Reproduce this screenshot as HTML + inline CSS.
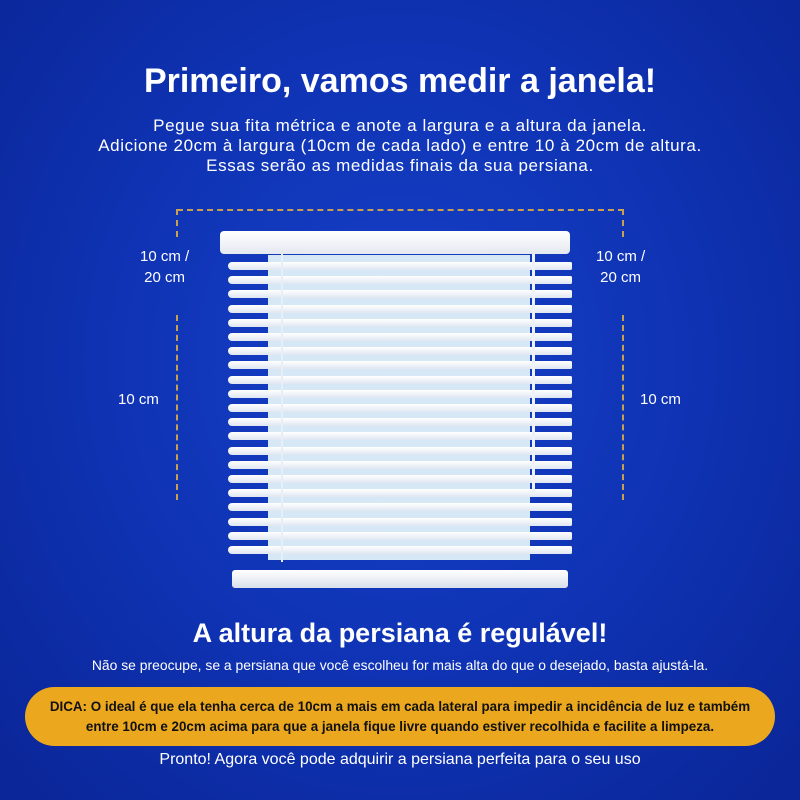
<!DOCTYPE html>
<html><head><meta charset="utf-8"><style>
*{margin:0;padding:0;box-sizing:border-box}
body{width:800px;height:800px;overflow:hidden;font-family:"Liberation Sans",sans-serif}
#root{position:relative;width:800px;height:800px;background:radial-gradient(ellipse at 50% 45%,#1640c8 0%,#0f33b4 50%,#0a2596 100%);color:#fff}
.t{position:absolute;left:0;width:800px;text-align:center;white-space:nowrap}
.lbl{position:absolute;font-size:15px;text-align:center;white-space:nowrap}
.dh{position:absolute;border-top:2px dashed #c9a050}
.dv{position:absolute;border-left:2px dashed #c9a050}
.slat{position:absolute;left:228px;width:344px;height:8px;background:linear-gradient(#fff,#dfe6f2);border-radius:5px 2px 2px 5px}
</style></head><body>
<div id="root">
<div class="t" style="top:62px;font-size:34px;font-weight:bold">Primeiro, vamos medir a janela!</div>
<div class="t" style="top:116px;font-size:17px;line-height:20px;letter-spacing:0.6px">Pegue sua fita métrica e anote a largura e a altura da janela.<br>Adicione 20cm à largura (10cm de cada lado) e entre 10 à 20cm de altura.<br>Essas serão as medidas finais da sua persiana.</div>

<div class="dh" style="left:177px;top:209px;width:447px"></div>
<div class="dv" style="left:176px;top:209px;height:28px"></div>
<div class="dv" style="left:176px;top:315px;height:185px"></div>
<div class="dv" style="left:622px;top:209px;height:28px"></div>
<div class="dv" style="left:622px;top:315px;height:185px"></div>

<div class="lbl" style="left:140px;top:246px;line-height:21px">10 cm /<br>20 cm</div>
<div class="lbl" style="left:596px;top:246px;line-height:21px">10 cm /<br>20 cm</div>
<div class="lbl" style="left:118px;top:391px">10 cm</div>
<div class="lbl" style="left:640px;top:391px">10 cm</div>

<div style="position:absolute;left:268px;top:255px;width:262px;height:305px;background:#d6e8f6"></div>
<div id="slats"></div>
<div style="position:absolute;left:281px;top:252px;width:2px;height:310px;background:#e8eef6"></div>
<div style="position:absolute;left:532px;top:252px;width:3px;height:240px;background:#eef2f8"></div>
<div style="position:absolute;left:220px;top:231px;width:350px;height:23px;background:linear-gradient(#fff,#e4e9f0);border-radius:4px"></div>
<div style="position:absolute;left:232px;top:570px;width:336px;height:18px;background:linear-gradient(#fff,#d9e0ea);border-radius:3px"></div>

<div class="t" style="top:618px;font-size:27px;font-weight:bold">A altura da persiana é regulável!</div>
<div class="t" style="top:657px;font-size:13.9px">Não se preocupe, se a persiana que você escolheu for mais alta do que o desejado, basta ajustá-la.</div>
<div style="position:absolute;left:25px;top:687px;width:750px;height:59px;background:#eba81f;border-radius:30px;color:#111;font-size:13.4px;font-weight:bold;text-align:center;line-height:20px;padding-top:10px;white-space:nowrap">DICA: O ideal é que ela tenha cerca de 10cm a mais em cada lateral para impedir a incidência de luz e também<br>entre 10cm e 20cm acima para que a janela fique livre quando estiver recolhida e facilite a limpeza.</div>
<div class="t" style="top:751px;font-size:16px">Pronto! Agora você pode adquirir a persiana perfeita para o seu uso</div>
</div>
<script>
var c=document.getElementById('slats');
for(var i=0;i<21;i++){
var s=document.createElement('div');
s.className='slat';
s.style.top=(262+i*14.2)+'px';


c.appendChild(s);}
</script>
</body></html>
